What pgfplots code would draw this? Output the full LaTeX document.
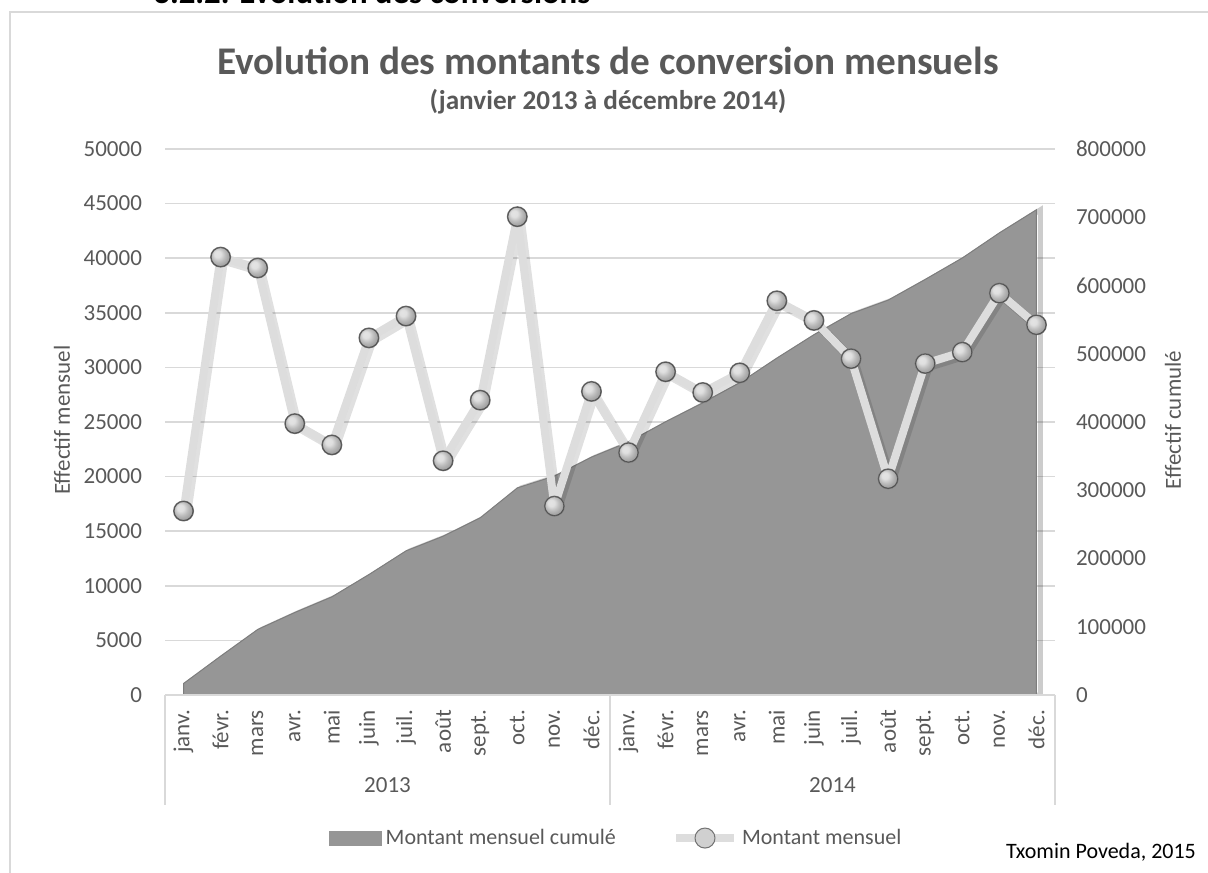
\documentclass[border=0pt]{standalone}
\usepackage{pgfplots}
\pgfplotsset{compat=1.18}
\usepackage{pgfplotstable}
\usepackage{fontspec}
\setmainfont{Carlito}
\definecolor{textgray}{RGB}{89,89,89}
\definecolor{gridgray}{RGB}{217,217,217}
\definecolor{areagray}{RGB}{150,150,150}
\definecolor{areaedge}{RGB}{125,125,125}
\definecolor{linegray}{RGB}{221,221,221}
\definecolor{markfill}{RGB}{208,208,208}
\definecolor{markedge}{RGB}{115,115,115}
\pgfplotsset{/pgf/number format/assume math mode=true,
  mylineleg/.style={legend image code/.code={\draw[mark repeat=2,mark phase=2,##1] plot coordinates {(0pt,0pt) (14.5pt,0pt) (29pt,0pt)};}},
  myarealeg/.style={legend image code/.code={\fill[areagray] (0pt,-3.5pt) rectangle (26pt,3.5pt);}}
}

\pgfplotstableread{
x y
0 16850
1 40100
2 39100
3 24850
4 22900
5 32700
6 34700
7 21450
8 27000
9 43800
10 17300
11 27800
12 22200
13 29600
14 27700
15 29500
16 36100
17 34300
18 30800
19 19800
20 30350
21 31400
22 36800
23 33900
}\monthly

\pgfplotstableread{
x y
0 16850
1 56950
2 96050
3 120900
4 143800
5 176500
6 211200
7 232650
8 259650
9 303450
10 320750
11 348550
12 370750
13 400350
14 428050
15 457550
16 493650
17 527950
18 558750
19 578550
20 608900
21 640300
22 677100
23 711000
}\cumul

\begin{document}
\begin{tikzpicture}
\useasboundingbox (0,0) rectangle (604pt,436pt);
\clip (0,0) rectangle (604pt,436pt);
\draw[gridgray, line width=0.75pt] (5pt,430pt) rectangle (640pt,-20pt);
\node[anchor=base west, inner sep=0pt, font=\bfseries\fontsize{16.4}{19}\selectfont] at (76.5pt,434pt) {3.2.2. Evolution des conversions};
\node[anchor=base, text=textgray, font=\bfseries\fontsize{19.6}{23}\selectfont] at (304pt,398.5pt) {Evolution des montants de conversion mensuels};
\node[anchor=base, text=textgray, font=\bfseries\fontsize{13.6}{16}\selectfont] at (304pt,381pt) {(janvier 2013 à décembre 2014)};

\begin{axis}[
  at={(82.5pt,88.5pt)}, anchor=south west, scale only axis,
  width=445pt, height=273pt,
  xmin=-0.5, xmax=23.5, ymin=0, ymax=800000,
  hide x axis,
  axis y line*=right,
  y axis line style={draw=none},
  ytick={0,100000,200000,300000,400000,500000,600000,700000,800000},
  scaled y ticks=false,
  yticklabel style={text=textgray, font=\fontsize{11.5}{14}\selectfont, /pgf/number format/fixed, /pgf/number format/1000 sep={}},
  yticklabel shift=7pt,
  major tick length=0pt,
  extra y ticks={0,80000,160000,240000,320000,400000,480000,560000,640000,720000,800000},
  extra y tick labels={},
  extra y tick style={grid=major, major grid style={gridgray, line width=0.75pt}},
]
\addplot[draw=black, opacity=0.2, line width=2.5pt, xshift=2pt, forget plot] table[x=x,y=y]{\cumul} \closedcycle;
\addplot[fill=areagray, draw=areaedge, line width=0.5pt] table[x=x,y=y]{\cumul} \closedcycle;
\end{axis}

\begin{axis}[
  at={(82.5pt,88.5pt)}, anchor=south west, scale only axis,
  width=445pt, height=273pt,
  xmin=-0.5, xmax=23.5, ymin=0, ymax=50000,
  axis y line*=left, axis x line*=bottom,
  y axis line style={draw=none},
  x axis line style={gridgray, line width=0.75pt, -},
  major tick length=0pt,
  xtick={0,1,2,3,4,5,6,7,8,9,10,11,12,13,14,15,16,17,18,19,20,21,22,23},
  xticklabels={janv.,févr.,mars,avr.,mai,juin,juil.,août,sept.,oct.,nov.,déc.,janv.,févr.,mars,avr.,mai,juin,juil.,août,sept.,oct.,nov.,déc.},
  xticklabel style={rotate=90, anchor=east, text=textgray, font=\fontsize{11.5}{14}\selectfont},
  xticklabel shift=4pt,
  ytick={0,5000,10000,15000,20000,25000,30000,35000,40000,45000,50000},
  scaled y ticks=false,
  yticklabel style={text=textgray, font=\fontsize{11.5}{14}\selectfont, /pgf/number format/fixed, /pgf/number format/1000 sep={}},
  yticklabel shift=8pt,
  clip=false,
  legend style={at={(0.508,-0.262)}, anchor=center, draw=none, fill=none,
    font=\fontsize{11}{13}\selectfont, text=textgray,
    /tikz/every even column/.append style={column sep=26pt}},
  legend columns=2,
]
\addlegendimage{myarealeg}
\addlegendentry{Montant mensuel cumulé}
\addplot[black, opacity=0.12, line width=4.5pt, line join=round, xshift=1.5pt, yshift=-1.5pt, forget plot]
  table[x=x,y=y]{\monthly};
\addplot[linegray, line width=4pt, line join=round, mark=*, mark size=5pt,
  mark options={fill=markfill, draw=markedge, line width=0.5pt}, mylineleg]
  table[x=x,y=y]{\monthly};
\addlegendentry{Montant mensuel}
\addplot[only marks, mark=ball, mark size=4.7pt, mark options={ball color=gray!12, opacity=0.45}, forget plot]
  table[x=x,y=y]{\monthly};
\draw[gridgray, line width=0.75pt] (axis cs:-0.5,0) -- ++(0pt,-55pt);
\draw[gridgray, line width=0.75pt] (axis cs:11.5,0) -- ++(0pt,-55pt);
\draw[gridgray, line width=0.75pt] (axis cs:23.5,0) -- ++(0pt,-55pt);
\node[text=textgray, font=\fontsize{11.5}{14}\selectfont] at ([yshift=-45pt]axis cs:5.5,0) {2013};
\node[text=textgray, font=\fontsize{11.5}{14}\selectfont] at ([yshift=-45pt]axis cs:17.5,0) {2014};
\end{axis}

\node[rotate=90, text=textgray, font=\fontsize{11.5}{14}\selectfont] at (31pt,226pt) {Effectif mensuel};
\node[rotate=90, text=textgray, font=\fontsize{11.5}{14}\selectfont] at (586.5pt,226pt) {Effectif cumulé};
\node[anchor=base, font=\fontsize{11}{13}\selectfont] at (550.5pt,7pt) {Txomin Poveda, 2015};
\end{tikzpicture}
\end{document}
